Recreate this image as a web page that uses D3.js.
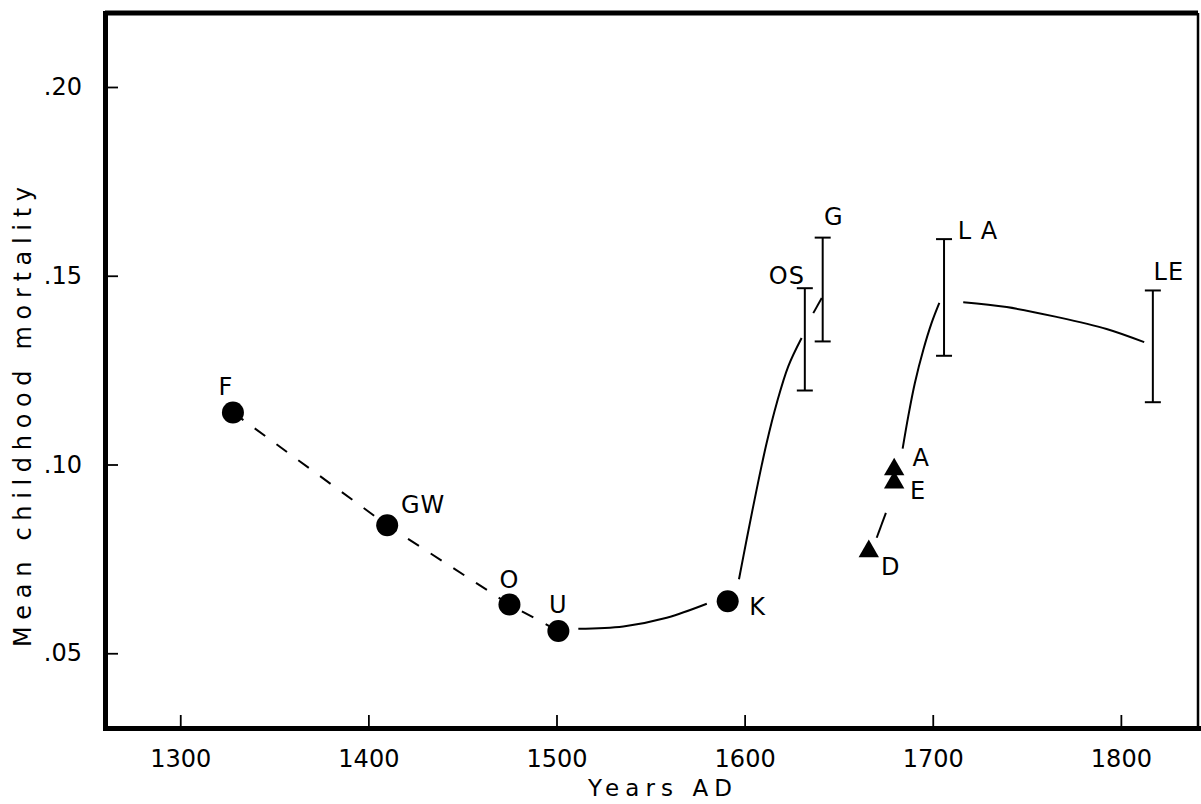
<!DOCTYPE html>
<html>
<head>
<meta charset="utf-8">
<script src="https://cdn.jsdelivr.net/npm/d3@7"></script>
<style>
  body { margin: 0; background: #fff; }
  text { font-family: 'DejaVu Sans', sans-serif; fill: #000; }
</style>
</head>
<body>
<svg id="chart" width="1201" height="804"></svg>
<script>
// circles (sites)
var sites = ['F', 'GW', 'O', 'U', 'K'];
var siteYear = [1328, 1410, 1475, 1501, 1591];
var siteMort = [0.1138, 0.0839, 0.0629, 0.0559, 0.0638];

// triangles
var triSites = ['D', 'E', 'A'];
var triYear = [1666, 1679.5, 1679.5];
var triMort = [0.0770, 0.0952, 0.0987];

// ranges (error bars)
var barSites = ['OS', 'G', 'L A', 'LE'];
var barYear = [1632, 1641.5, 1706, 1817];
var barLow = [0.1196, 0.1326, 0.1288, 0.1165];
var barHigh = [0.1467, 0.1601, 0.1597, 0.1461];

// hand drawn trend curves [year, mortality]
var trendUK = [[1511.6, 0.0565], [1535.5, 0.0571], [1558.6, 0.0594], [1579.9, 0.0631]];
var trendKOS = [[1597.0, 0.0696], [1601.1, 0.0802], [1606.4, 0.0934], [1611.7, 0.1057],
                [1617.1, 0.1163], [1623.2, 0.1260], [1630.3, 0.1335]];
var trendOSG = [[1636.5, 0.1401], [1641.0, 0.1441]];
var trendALA = [[1684.0, 0.1042], [1687.0, 0.1128], [1690.5, 0.1216], [1695.0, 0.1304],
                [1699.4, 0.1375], [1703.5, 0.1428]];
var trendLALE = [[1716.2, 0.1430], [1739.3, 0.1417], [1765.8, 0.1391], [1792.4, 0.1359], [1812.4, 0.1324]];
var trendDE = [[1670.2, 0.0806], [1675.1, 0.0872]];

// ticks
var xTicks = [1300, 1400, 1500, 1600, 1700, 1800];
var yTicks = [0.05, 0.10, 0.15, 0.20];

// label offsets from the mark (px)
var labelOff = {
	F: [-7, -26], GW: [36, -21], O: [0, -25], U: [0, -27], K: [30, 5],
	D: [22, 15], E: [24, 8], A: [27, -12],
	OS: [-18, -13], G: [11, -21], 'L A': [34, -9], LE: [16, -19]
};

var mLeft = 105, mRight = 1198, mTop = 13, mBottom = 728;

var x = d3.scaleLinear().domain([1260, 1841]).range([mLeft, mRight]);
var y = d3.scaleLinear().domain([0.0302, 0.2196]).range([mBottom, mTop]);

var svg = d3.select('#chart');

// frame top + right
svg.append('line')
	.attr('x1', mLeft).attr('x2', mRight).attr('y1', mTop).attr('y2', mTop)
	.attr('stroke', '#000').attr('stroke-width', 5);
svg.append('line')
	.attr('x1', mRight).attr('x2', mRight).attr('y1', mTop).attr('y2', mBottom)
	.attr('stroke', '#000').attr('stroke-width', 2.5);

// axes with inward ticks
var xAxis = svg.append('g')
	.attr('transform', 'translate(0,' + mBottom + ')')
	.call(d3.axisBottom(x).tickValues(xTicks).tickFormat(d3.format('d'))
		.tickSizeInner(-13).tickSizeOuter(0).tickPadding(22));

var yAxis = svg.append('g')
	.attr('transform', 'translate(' + mLeft + ',0)')
	.call(d3.axisLeft(y).tickValues(yTicks)
		.tickFormat(function(d){ return d3.format('.2f')(d).replace(/^0/, ''); })
		.tickSizeInner(-13).tickSizeOuter(0).tickPadding(23));

[xAxis, yAxis].forEach(function(ax){
	ax.select('.domain').attr('stroke', '#000').attr('stroke-width', 5).attr('stroke-linecap', 'square');
	ax.selectAll('.tick line').attr('stroke', '#000').attr('stroke-width', 1.8);
	ax.selectAll('.tick text')
		.style('font-family', "'DejaVu Sans', sans-serif")
		.style('font-size', '24px')
		.attr('fill', '#000');
});

// axis titles
svg.append('text')
	.attr('transform', 'translate(31,647) rotate(-90)')
	.attr('textLength', 460)
	.attr('lengthAdjust', 'spacing')
	.style('font-size', '24px')
	.text('Mean childhood mortality');

svg.append('text')
	.attr('x', 588).attr('y', 796)
	.attr('textLength', 144)
	.attr('lengthAdjust', 'spacing')
	.style('font-size', '23px')
	.text('Years AD');

// lines
var line = d3.line()
	.x(function(d){ return x(d[0]); })
	.y(function(d){ return y(d[1]); })
	.curve(d3.curveCatmullRom.alpha(0.5));

var dashed = sites.slice(0, 4).map(function(s, i){ return [siteYear[i], siteMort[i]]; });

svg.append('path')
	.attr('d', d3.line().x(function(d){ return x(d[0]); }).y(function(d){ return y(d[1]); })(dashed))
	.attr('fill', 'none').attr('stroke', '#000').attr('stroke-width', 2)
	.attr('stroke-dasharray', '13,14');

svg.append('path')
	.attr('d', line(trendDE))
	.attr('fill', 'none').attr('stroke', '#000').attr('stroke-width', 2);

[trendUK, trendKOS, trendOSG, trendALA, trendLALE].forEach(function(t){
	svg.append('path')
		.attr('d', line(t))
		.attr('fill', 'none').attr('stroke', '#000').attr('stroke-width', 2);
});

// error bars
var bars = svg.selectAll('.bar').data(barSites).enter().append('g').attr('class', 'bar');
bars.append('line')
	.attr('x1', function(d, i){ return x(barYear[i]); })
	.attr('x2', function(d, i){ return x(barYear[i]); })
	.attr('y1', function(d, i){ return y(barHigh[i]); })
	.attr('y2', function(d, i){ return y(barLow[i]); })
	.attr('stroke', '#000').attr('stroke-width', 2);
[barHigh, barLow].forEach(function(arr){
	bars.append('line')
		.attr('x1', function(d, i){ return x(barYear[i]) - 8; })
		.attr('x2', function(d, i){ return x(barYear[i]) + 8; })
		.attr('y1', function(d, i){ return y(arr[i]); })
		.attr('y2', function(d, i){ return y(arr[i]); })
		.attr('stroke', '#000').attr('stroke-width', 2);
});

// dots
svg.selectAll('.dot').data(sites).enter().append('circle')
	.attr('class', 'dot')
	.attr('cx', function(d, i){ return x(siteYear[i]); })
	.attr('cy', function(d, i){ return y(siteMort[i]); })
	.attr('r', 11)
	.attr('fill', '#000');

// triangles
svg.selectAll('.tri').data(triSites).enter().append('path')
	.attr('class', 'tri')
	.attr('d', d3.symbol().type(d3.symbolTriangle).size(180))
	.attr('transform', function(d, i){ return 'translate(' + x(triYear[i]) + ',' + y(triMort[i]) + ')'; })
	.attr('fill', '#000');

// point labels
function addLabels(names, xs, ys){
	svg.selectAll(null).data(names).enter().append('text')
		.attr('x', function(d, i){ return x(xs[i]) + labelOff[d][0]; })
		.attr('y', function(d, i){ return y(ys[i]) + labelOff[d][1]; })
		.attr('dy', '0.36em')
		.style('text-anchor', 'middle')
		.style('font-size', '24px')
		.style('letter-spacing', '1px')
		.text(function(d){ return d; });
}
addLabels(sites, siteYear, siteMort);
addLabels(triSites, triYear, triMort);
addLabels(barSites, barYear, barHigh);
</script>
</body>
</html>
